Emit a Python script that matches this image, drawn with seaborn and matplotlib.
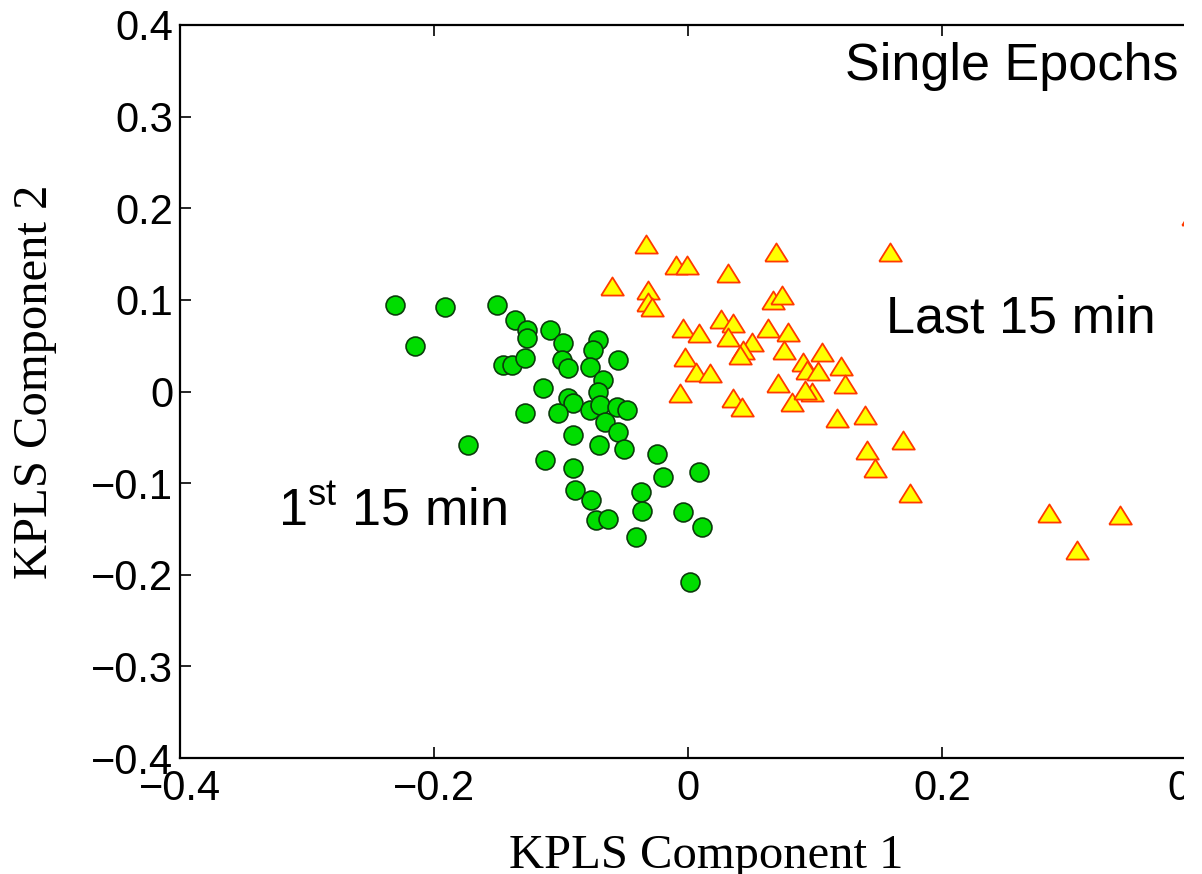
'''
KPLS scores, single epochs: first 15 min vs last 15 min
'''

import numpy as np
import pandas as pd
import matplotlib
matplotlib.use('Agg')
from matplotlib import pyplot as plt
from matplotlib.patches import Rectangle
import seaborn as sns

# 1st 15 min (green circles)
first_x = [-0.2307, -0.1913, -0.1504, -0.2150, -0.1362, -0.1268, -0.1268, -0.1087, -0.0984, -0.0709,
           -0.0748, -0.0551, -0.1457, -0.1386, -0.1283, -0.0992, -0.0945, -0.0772, -0.0669, -0.1142,
           -0.0709, -0.0945, -0.0906, -0.1024, -0.1283, -0.0772, -0.0693, -0.0559, -0.0480, -0.0654,
           -0.0551, -0.0906, -0.1732, -0.0701, -0.0504, -0.0244, -0.1126, -0.0906, -0.0197, 0.0087,
           -0.0890, -0.0370, -0.0764, -0.0362, -0.0039, 0.0110, -0.0724, -0.0630, -0.0409, 0.0016]
first_y = [0.0944, 0.0922, 0.0944, 0.0497, 0.0781, 0.0671, 0.0584, 0.0671, 0.0529, 0.0562,
           0.0453, 0.0344, 0.0289, 0.0289, 0.0366, 0.0344, 0.0257, 0.0267, 0.0126, 0.0038,
           -0.0005, -0.0071, -0.0126, -0.0235, -0.0235, -0.0202, -0.0147, -0.0169, -0.0202, -0.0333,
           -0.0442, -0.0475, -0.0584, -0.0584, -0.0628, -0.0682, -0.0748, -0.0835, -0.0933, -0.0879,
           -0.1075, -0.1097, -0.1185, -0.1305, -0.1316, -0.1479, -0.1403, -0.1392, -0.1589, -0.2080]

# last 15 min (yellow triangles)
last_x = [-0.0331, -0.0094, -0.0008, 0.0315, 0.0693, 0.1591, -0.0598, -0.0315, -0.0315, -0.0283,
          0.0669, 0.0740, -0.0039, 0.0087, 0.0260, 0.0354, 0.0315, 0.0504, 0.0433, 0.0409,
          0.0630, 0.0787, 0.0756, -0.0024, 0.0063, 0.0173, -0.0063, 0.0354, 0.0425, 0.0709,
          0.0819, 0.0906, 0.0937, 0.1024, 0.1055, 0.1205, 0.1236, 0.0976, 0.0921, 0.1173,
          0.1394, 0.1693, 0.1409, 0.1472, 0.1748, 0.2843, 0.3063, 0.3402, 0.3976]
last_y = [0.1610, 0.1381, 0.1381, 0.1294, 0.1523, 0.1523, 0.1152, 0.1108, 0.0977, 0.0922,
          0.0999, 0.1053, 0.0693, 0.0639, 0.0791, 0.0748, 0.0595, 0.0540, 0.0453, 0.0398,
          0.0693, 0.0650, 0.0453, 0.0377, 0.0213, 0.0202, -0.0016, -0.0071, -0.0169, 0.0093,
          -0.0115, 0.0322, 0.0235, 0.0224, 0.0431, 0.0278, 0.0082, -0.0005, 0.0016, -0.0289,
          -0.0257, -0.0529, -0.0639, -0.0835, -0.1108, -0.1326, -0.1730, -0.1348, 0.1920]

ticks = [-0.4, -0.2, 0, 0.2, 0.4]
yticks = [-0.4, -0.3, -0.2, -0.1, 0, 0.1, 0.2, 0.3, 0.4]

df_first = pd.DataFrame({'c1': first_x, 'c2': first_y})
df_last = pd.DataFrame({'c1': last_x, 'c2': last_y})

sns.set_style('ticks')
plt.rcParams['font.family'] = ['Liberation Sans', 'DejaVu Sans']
plt.rcParams['mathtext.fontset'] = 'custom'
plt.rcParams['mathtext.rm'] = 'Liberation Sans'
plt.rcParams['text.color'] = 'black'
plt.rcParams['axes.labelcolor'] = 'black'
plt.rcParams['xtick.color'] = 'black'
plt.rcParams['ytick.color'] = 'black'

fig = plt.figure(figsize=(12.02, 8.74), dpi=100)
ax = fig.add_axes([180 / 1202, 116 / 874, 1016 / 1202, 733 / 874])

# flattened triangle like the matlab one
tri = [(-1, -0.8), (1, -0.8), (0, 0.8), (-1, -0.8)]

sns.scatterplot(x='c1', y='c2', data=df_first, ax=ax, marker='o', s=185,
                color='#00dd00', edgecolor='#0b3d0b', linewidth=1.2, zorder=3)
sns.scatterplot(x='c1', y='c2', data=df_last, ax=ax, marker=tri, s=265,
                color='#ffff00', edgecolor='#ff3a00', linewidth=1.3, zorder=4)

ax.set_xlim(-0.4, 0.4)
ax.set_ylim(-0.4, 0.4)
ax.set_xticks(ticks)
ax.set_yticks(yticks)
ax.set_xticklabels(['\u22120.4', '\u22120.2', '0', '0.2', '0.4'])
ax.set_yticklabels(['\u22120.4', '\u22120.3', '\u22120.2', '\u22120.1', '0', '0.1', '0.2', '0.3', '0.4'])
ax.tick_params(direction='in', length=8, width=1.2, top=True, right=True, labelsize=30)
ax.tick_params(axis='x', pad=8)
ax.tick_params(axis='y', pad=5)
for sp in ax.spines.values():
    sp.set_color('black')
    sp.set_linewidth(1.6)

ax.set_xlabel('KPLS Component 1', family='Liberation Serif', fontsize=35)
ax.set_ylabel('KPLS Component 2', family='Liberation Serif', fontsize=35)
ax.xaxis.label.set_va('baseline')
ax.xaxis.set_label_coords(0.518, -0.150)
ax.yaxis.label.set_va('center')
ax.yaxis.set_label_coords(-0.1427, 0.513)

ax.text(0.1236, 0.340, 'Single Epochs', fontsize=37.5, va='baseline', ha='left')
ax.text(0.156, 0.0639, 'Last 15 min', fontsize=37.5, va='baseline', ha='left')
ax.text(-0.3228, -0.1457, r'1$^{\mathrm{st}}$ 15 min', fontsize=37.5, va='baseline', ha='left')

# the original picture is cut off on the right
fig.add_artist(Rectangle((1184 / 1202, 0), 1, 1, transform=fig.transFigure,
                         facecolor='white', edgecolor='none', zorder=20))

plt.savefig('out.png', dpi=100)
